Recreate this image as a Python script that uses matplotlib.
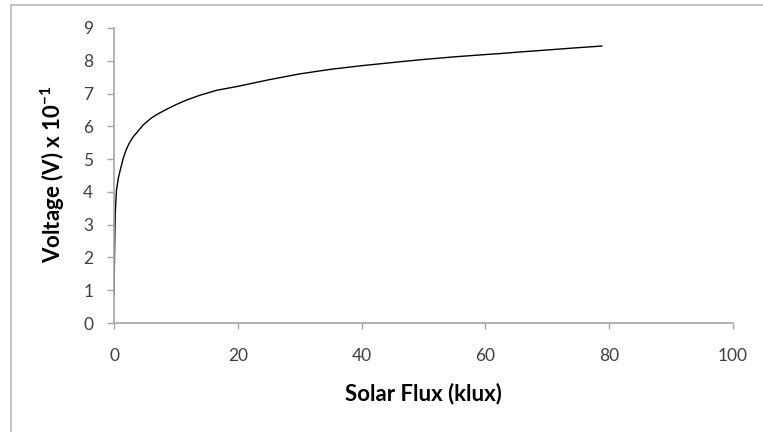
import matplotlib
matplotlib.use("Agg")
import matplotlib.pyplot as plt
from matplotlib.lines import Line2D

# Data
flux_klux = [0.02, 0.05, 0.1, 0.2, 0.4, 0.7, 1.0, 1.5, 2.0, 2.5, 3.1, 4.0, 4.7, 6.0,
             7.0, 8.5, 10.0, 11.7, 13.9, 16.6, 20.0, 25.0, 30.0, 35.0, 40.0, 46.2,
             50.0, 55.0, 60.0, 62.4, 65.0, 70.0, 75.0, 78.8]
voltage = [0.85, 1.6, 2.3, 3.35, 4.05, 4.42, 4.66, 5.03, 5.3, 5.5, 5.68, 5.88, 6.04,
           6.25, 6.37, 6.52, 6.66, 6.8, 6.95, 7.1, 7.22, 7.42, 7.6, 7.74, 7.85, 7.97,
           8.04, 8.12, 8.19, 8.22, 8.26, 8.33, 8.4, 8.45]
x_ticks = [0, 20, 40, 60, 80, 100]
y_ticks = [0, 1, 2, 3, 4, 5, 6, 7, 8, 9]

plt.rcParams['font.family'] = ['Lato', 'DejaVu Sans']

W, H = 763, 432
fig = plt.figure(figsize=(W / 100, H / 100), dpi=100)
fig.patch.set_facecolor('white')

ax = fig.add_axes([114 / W, 1 - 323 / H, (733 - 114) / W, (323 - 28) / H])
ax.plot(flux_klux, voltage, color='black', lw=1.0)
ax.set_xlim(0, 100)
ax.set_ylim(0, 9)
ax.set_xticks(x_ticks)
ax.set_yticks(y_ticks)

axis_col = '#a6a6a6'
for s in ['top', 'right']:
    ax.spines[s].set_visible(False)
for s in ['left', 'bottom']:
    ax.spines[s].set_color(axis_col)
    ax.spines[s].set_linewidth(1.2)
ax.tick_params(axis='x', direction='out', length=4, width=1, color=axis_col,
               pad=14, labelsize=12.5, labelcolor='#404040')
ax.tick_params(axis='y', direction='out', length=5, width=1, color=axis_col,
               pad=10, labelsize=12.5, labelcolor='#404040')

fig.text(423 / W, 1 - 394 / H, 'Solar Flux (klux)', ha='center', va='center',
         fontsize=16, fontweight='bold', color='black')
fig.text(53 / W, 1 - 174.5 / H, r'Voltage (V) x 10$^{\mathregular{-1}}$', ha='center',
         va='center', rotation=90, fontsize=16, fontweight='bold', color='black')

# Outer chart-area border (left and top visible)
border_col = '#bfbfbf'
fig.add_artist(Line2D([10.5 / W, 10.5 / W], [0, 1 - 5 / H], transform=fig.transFigure,
                      color=border_col, lw=1.3))
fig.add_artist(Line2D([10.5 / W, 1], [1 - 5 / H, 1 - 5 / H], transform=fig.transFigure,
                      color=border_col, lw=1.3))

fig.savefig('out.png', dpi=100)
